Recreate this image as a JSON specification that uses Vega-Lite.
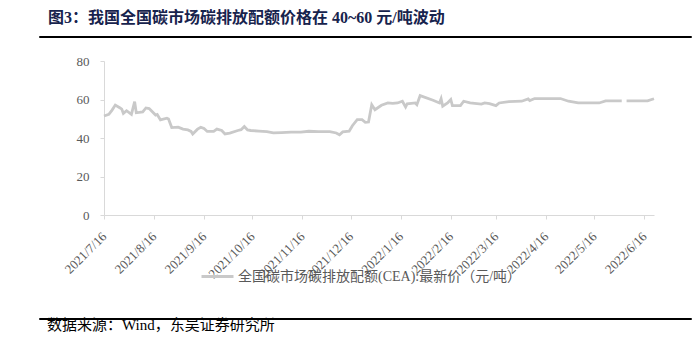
{
  "$schema": "https://vega.github.io/schema/vega-lite/v6.json",
  "background": "white",
  "padding": {"left": 38, "top": 9, "right": 8, "bottom": 5},
  "config": {
    "font": "Liberation Serif, Noto Sans CJK SC",
    "view": {"stroke": null}
  },
  "spacing": 17,
  "columns": 1,
  "align": "none",
  "concat": [
    {
      "width": 652,
      "height": 1,
      "title": {
        "text": "图3：我国全国碳市场碳排放配额价格在 40~60 元/吨波动",
        "anchor": "start",
        "dx": 9,
        "offset": 10,
        "font": "Liberation Serif, Noto Sans CJK SC",
        "fontSize": 16,
        "fontWeight": "bold",
        "color": "#17234d"
      },
      "view": {"stroke": "#000000", "strokeWidth": 1},
      "data": {"values": [{"t": 0}]},
      "mark": {"type": "point", "size": 0, "opacity": 0},
      "encoding": {}
    },
    {
      "spacing": 0,
      "hconcat": [
        {
          "width": 10,
          "height": 154,
          "data": {"values": [{"t": 0}]},
          "mark": {"type": "point", "size": 0, "opacity": 0},
          "encoding": {}
        },
        {
          "width": 550,
          "height": 154,
          "data": {
            "values": [
              {"date": "2021/7/16", "price": 51.4},
              {"date": "2021/7/19", "price": 52.3},
              {"date": "2021/7/21", "price": 54.5},
              {"date": "2021/7/23", "price": 57.1},
              {"date": "2021/7/26", "price": 55.6},
              {"date": "2021/7/27", "price": 55.0},
              {"date": "2021/7/28", "price": 52.8},
              {"date": "2021/7/30", "price": 54.2},
              {"date": "2021/8/2", "price": 52.3},
              {"date": "2021/8/4", "price": 58.9},
              {"date": "2021/8/5", "price": 53.1},
              {"date": "2021/8/9", "price": 53.6},
              {"date": "2021/8/11", "price": 55.6},
              {"date": "2021/8/13", "price": 55.3},
              {"date": "2021/8/17", "price": 51.9},
              {"date": "2021/8/18", "price": 52.2},
              {"date": "2021/8/20", "price": 49.4},
              {"date": "2021/8/24", "price": 50.3},
              {"date": "2021/8/25", "price": 49.9},
              {"date": "2021/8/27", "price": 45.4},
              {"date": "2021/8/31", "price": 45.6},
              {"date": "2021/9/3", "price": 44.6},
              {"date": "2021/9/6", "price": 44.2},
              {"date": "2021/9/8", "price": 43.4},
              {"date": "2021/9/9", "price": 42.1},
              {"date": "2021/9/12", "price": 44.6},
              {"date": "2021/9/14", "price": 45.6},
              {"date": "2021/9/16", "price": 44.9},
              {"date": "2021/9/18", "price": 43.4},
              {"date": "2021/9/22", "price": 43.4},
              {"date": "2021/9/24", "price": 44.6},
              {"date": "2021/9/27", "price": 43.9},
              {"date": "2021/9/29", "price": 42.1},
              {"date": "2021/10/2", "price": 42.5},
              {"date": "2021/10/7", "price": 43.9},
              {"date": "2021/10/9", "price": 44.3},
              {"date": "2021/10/11", "price": 46.0},
              {"date": "2021/10/13", "price": 44.2},
              {"date": "2021/10/15", "price": 43.9},
              {"date": "2021/10/20", "price": 43.6},
              {"date": "2021/10/25", "price": 43.3},
              {"date": "2021/10/29", "price": 42.7},
              {"date": "2021/11/3", "price": 42.8},
              {"date": "2021/11/9", "price": 43.0},
              {"date": "2021/11/15", "price": 43.1},
              {"date": "2021/11/20", "price": 43.5},
              {"date": "2021/11/26", "price": 43.3},
              {"date": "2021/12/3", "price": 43.3},
              {"date": "2021/12/7", "price": 42.6},
              {"date": "2021/12/9", "price": 41.7},
              {"date": "2021/12/11", "price": 43.2},
              {"date": "2021/12/15", "price": 43.5},
              {"date": "2021/12/17", "price": 46.4},
              {"date": "2021/12/20", "price": 49.5},
              {"date": "2021/12/23", "price": 49.5},
              {"date": "2021/12/25", "price": 48.1},
              {"date": "2021/12/27", "price": 48.3},
              {"date": "2021/12/29", "price": 57.3},
              {"date": "2021/12/31", "price": 54.7},
              {"date": "2022/1/4", "price": 57.0},
              {"date": "2022/1/8", "price": 58.2},
              {"date": "2022/1/11", "price": 58.0},
              {"date": "2022/1/14", "price": 58.2},
              {"date": "2022/1/17", "price": 59.1},
              {"date": "2022/1/19", "price": 56.1},
              {"date": "2022/1/20", "price": 57.8},
              {"date": "2022/1/25", "price": 58.2},
              {"date": "2022/1/26", "price": 57.3},
              {"date": "2022/1/28", "price": 62.0},
              {"date": "2022/2/5", "price": 59.6},
              {"date": "2022/2/9", "price": 58.2},
              {"date": "2022/2/10", "price": 60.4},
              {"date": "2022/2/11", "price": 56.5},
              {"date": "2022/2/14", "price": 58.2},
              {"date": "2022/2/16", "price": 60.0},
              {"date": "2022/2/17", "price": 56.8},
              {"date": "2022/2/22", "price": 56.8},
              {"date": "2022/2/24", "price": 59.1},
              {"date": "2022/2/28", "price": 58.2},
              {"date": "2022/3/7", "price": 57.6},
              {"date": "2022/3/9", "price": 58.2},
              {"date": "2022/3/12", "price": 57.8},
              {"date": "2022/3/16", "price": 56.8},
              {"date": "2022/3/18", "price": 58.2},
              {"date": "2022/3/24", "price": 58.9},
              {"date": "2022/4/1", "price": 59.1},
              {"date": "2022/4/5", "price": 60.3},
              {"date": "2022/4/6", "price": 59.4},
              {"date": "2022/4/9", "price": 60.5},
              {"date": "2022/4/25", "price": 60.5},
              {"date": "2022/4/30", "price": 59.1},
              {"date": "2022/5/6", "price": 58.2},
              {"date": "2022/5/19", "price": 58.2},
              {"date": "2022/5/23", "price": 59.3},
              {"date": "2022/6/2", "price": 59.3},
              {"date": "2022/6/3", "price": null},
              {"date": "2022/6/5", "price": 59.3},
              {"date": "2022/6/18", "price": 59.3},
              {"date": "2022/6/22", "price": 60.4}
            ]
          },
          "mark": {"type": "line", "strokeWidth": 2.8, "invalid": "break-paths-show-domains"},
          "encoding": {
            "x": {
              "field": "date",
              "type": "temporal",
              "scale": {
                "domain": [
                  {"year": 2021, "month": 7, "date": 16},
                  {"year": 2022, "month": 6, "date": 22}
                ]
              },
              "axis": {
                "values": [
                  {"year": 2021, "month": 7, "date": 16},
                  {"year": 2021, "month": 8, "date": 16},
                  {"year": 2021, "month": 9, "date": 16},
                  {"year": 2021, "month": 10, "date": 16},
                  {"year": 2021, "month": 11, "date": 16},
                  {"year": 2021, "month": 12, "date": 16},
                  {"year": 2022, "month": 1, "date": 16},
                  {"year": 2022, "month": 2, "date": 16},
                  {"year": 2022, "month": 3, "date": 16},
                  {"year": 2022, "month": 4, "date": 16},
                  {"year": 2022, "month": 5, "date": 16},
                  {"year": 2022, "month": 6, "date": 16}
                ],
                "format": "%Y/%-m/%-d",
                "title": " ",
                "titleFontSize": 1,
                "titlePadding": 18,
                "grid": false,
                "labelAngle": -45,
                "labelAlign": "right",
                "labelBaseline": "middle",
                "labelFont": "Liberation Serif",
                "labelFontSize": 13,
                "labelColor": "#595959",
                "labelPadding": 15,
                "labelOverlap": false,
                "labelFlush": false,
                "labelBound": false,
                "tickSize": 4,
                "tickColor": "#d9d9d9",
                "domainColor": "#d9d9d9"
              }
            },
            "y": {
              "field": "price",
              "type": "quantitative",
              "scale": {"domain": [0, 80], "nice": false},
              "axis": {
                "values": [0, 20, 40, 60, 80],
                "title": " ",
                "titleFontSize": 1,
                "titlePadding": 26,
                "grid": false,
                "labelFont": "Liberation Serif",
                "labelFontSize": 13,
                "labelColor": "#595959",
                "labelPadding": 11,
                "tickSize": 4,
                "tickColor": "#d9d9d9",
                "domainColor": "#d9d9d9"
              }
            },
            "color": {
              "datum": "全国碳市场碳排放配额(CEA):最新价（元/吨）",
              "type": "nominal",
              "scale": {"range": ["#c9c9c9"]},
              "legend": {
                "title": null,
                "orient": "none",
                "legendX": 150,
                "legendY": 212,
                "padding": 11,
                "symbolType": "stroke",
                "symbolSize": 1024,
                "symbolStrokeWidth": 3,
                "labelFont": "Liberation Serif, Noto Sans CJK SC",
                "labelFontSize": 14,
                "labelColor": "#595959",
                "labelLimit": 0,
                "labelOffset": 3
              }
            }
          }
        }
      ]
    },
    {
      "width": 652,
      "height": 1,
      "title": {
        "text": "数据来源：Wind，东吴证券研究所",
        "orient": "bottom",
        "anchor": "start",
        "dx": 8,
        "offset": 0,
        "dy": -1,
        "baseline": "top",
        "font": "Liberation Serif, Noto Sans CJK SC",
        "fontSize": 15,
        "fontWeight": "normal",
        "color": "#000000"
      },
      "view": {"stroke": "#000000", "strokeWidth": 1},
      "data": {"values": [{"t": 0}]},
      "mark": {"type": "point", "size": 0, "opacity": 0},
      "encoding": {}
    }
  ]
}
